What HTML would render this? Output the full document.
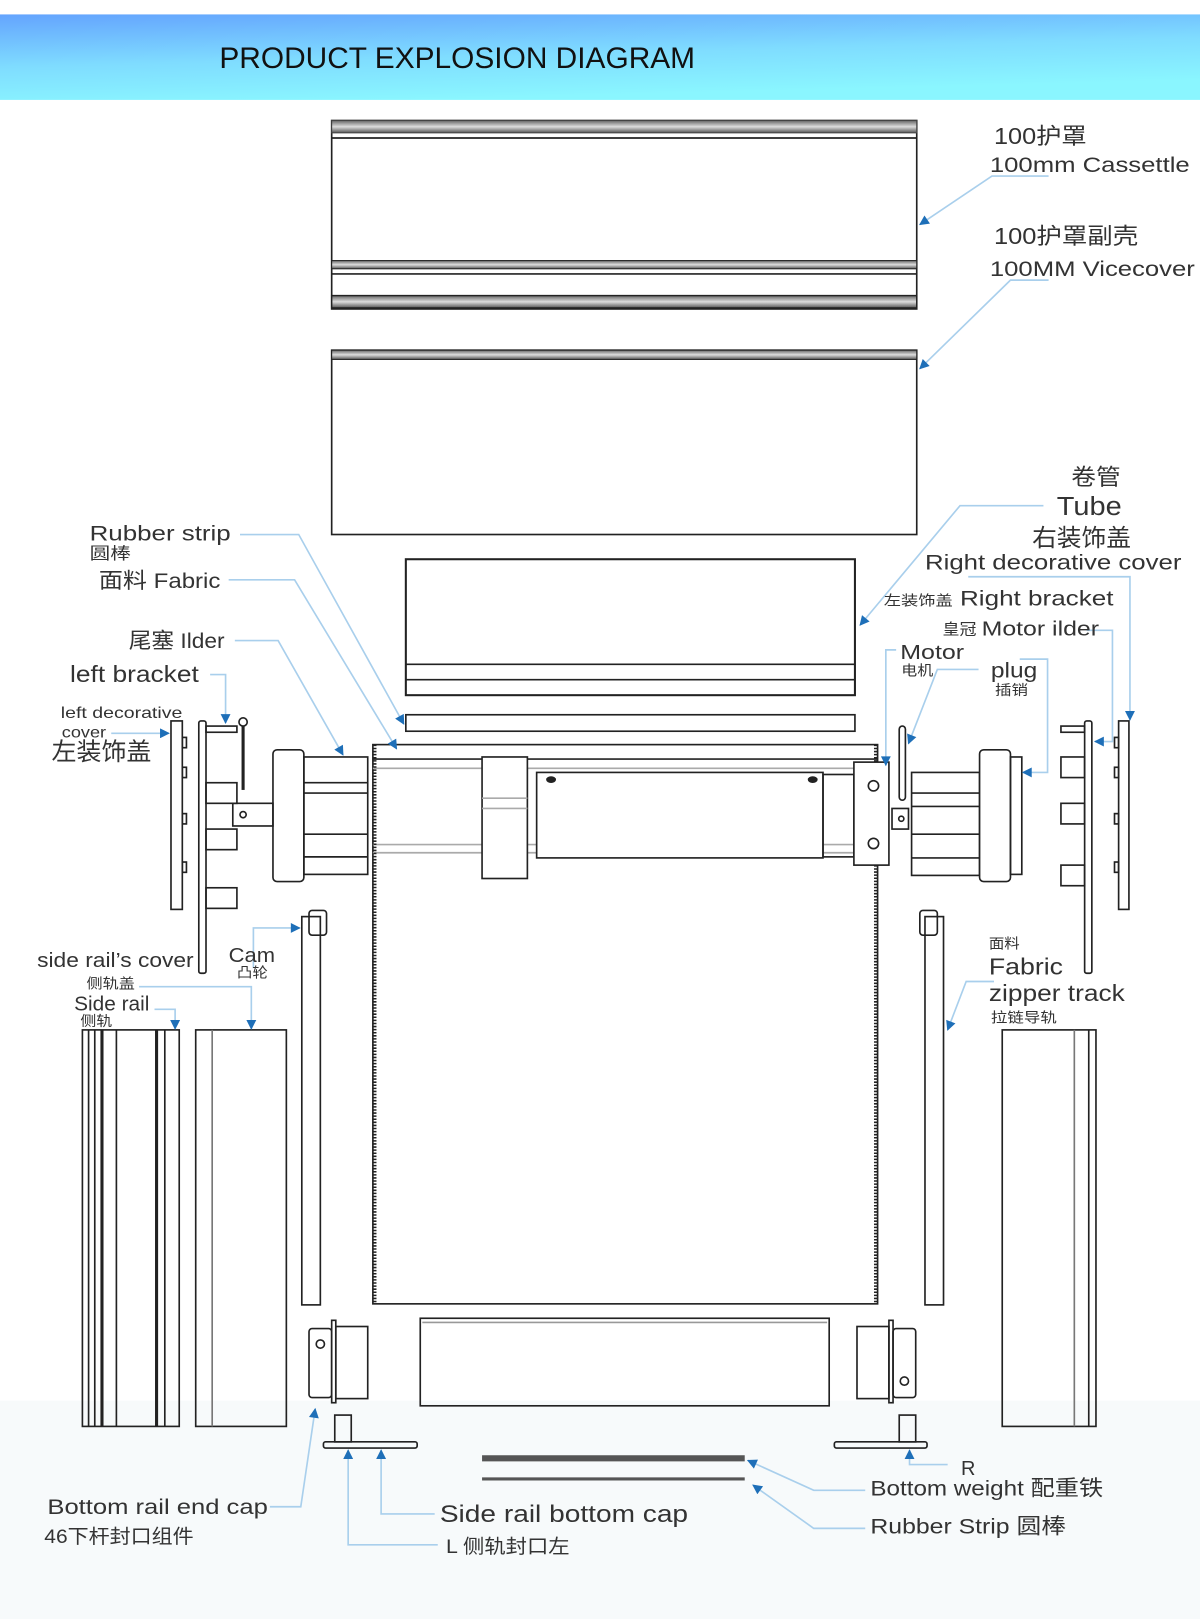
<!DOCTYPE html>
<html><head><meta charset="utf-8"><style>
html,body{margin:0;padding:0;background:#fff;}
svg{display:block}
text{font-family:"Liberation Sans","Noto Sans CJK SC",sans-serif;fill:#333}
</style></head><body>
<svg width="1200" height="1619" viewBox="0 0 1165 1572" preserveAspectRatio="none" xmlns="http://www.w3.org/2000/svg">
<defs>
<linearGradient id="hd" x1="0" y1="0" x2="0.35" y2="1">
<stop offset="0" stop-color="#64a4fe"/><stop offset="0.55" stop-color="#7fdcff"/><stop offset="1" stop-color="#8af6ff"/>
</linearGradient>
<linearGradient id="bar" x1="0" y1="0" x2="0" y2="1">
<stop offset="0" stop-color="#666"/><stop offset="0.5" stop-color="#ddd"/><stop offset="1" stop-color="#555"/>
</linearGradient>
<marker id="ar" viewBox="0 0 10 10" refX="9" refY="5" markerWidth="8" markerHeight="6" orient="auto">
<path d="M0,0 L10,5 L0,10 z" fill="#1e6fb8"/></marker>
</defs>
<rect x="0" y="1360" width="1165" height="212" fill="#f7fafb"/>
<rect x="0" y="14" width="1165" height="83" fill="url(#hd)"/>
<text x="213" y="66" font-size="29" style="font-family:'Liberation Sans Narrow','Liberation Sans',sans-serif;fill:#111">PRODUCT EXPLOSION DIAGRAM</text>

<g fill="none" stroke="#222" stroke-width="1.6">
<rect x="322" y="117" width="568" height="183" fill="#fff"/>
<rect x="322" y="117" width="568" height="12" fill="url(#bar)" stroke="#444" stroke-width="1"/>
<line x1="322" y1="134" x2="890" y2="134"/>
<rect x="322" y="253" width="568" height="8" fill="url(#bar)" stroke-width="1"/>
<line x1="322" y1="266" x2="890" y2="266"/>
<rect x="322" y="287" width="568" height="12" fill="url(#bar)" stroke-width="1.4"/>
<rect x="322" y="340" width="568" height="179" fill="#fff"/>
<rect x="322" y="340" width="568" height="9" fill="url(#bar)" stroke-width="1"/>
<rect x="394" y="543" width="436" height="132" stroke-width="2"/>
<line x1="394" y1="645" x2="830" y2="645"/>
<line x1="394" y1="660" x2="830" y2="660"/>
<rect x="394" y="694" width="436" height="16"/>
<rect x="362" y="723" width="490" height="543"/>
<line x1="362" y1="737" x2="852" y2="737"/>
<line x1="362" y1="746" x2="852" y2="746" stroke="#aaa"/>
<line x1="362" y1="820" x2="852" y2="820" stroke="#aaa"/>
<line x1="362" y1="828" x2="852" y2="828" stroke="#aaa"/>
<line x1="364" y1="723" x2="364" y2="1266" stroke-width="3" stroke-dasharray="1.5 1.5"/>
<line x1="850" y1="723" x2="850" y2="1266" stroke-width="3" stroke-dasharray="1.5 1.5"/>
<rect x="468" y="735" width="44" height="118" fill="#fff"/>
<line x1="468" y1="775" x2="512" y2="775" stroke="#aaa"/>
<line x1="468" y1="785" x2="512" y2="785" stroke="#aaa"/>
<rect x="521" y="750" width="278" height="83" fill="#fff"/>
<ellipse cx="535" cy="757" rx="4" ry="2.5" fill="#222"/>
<ellipse cx="789" cy="757" rx="4" ry="2.5" fill="#222"/>
<rect x="799" y="752" width="30" height="80"/>
<rect x="829" y="740" width="34" height="100" fill="#fff"/>
<circle cx="848" cy="763" r="5"/><circle cx="848" cy="819" r="5"/>
<rect x="866" y="785" width="16" height="20"/><circle cx="875" cy="795" r="2.5"/>
<rect x="873" y="705" width="6" height="72" rx="3"/>
<rect x="265" y="728" width="30" height="128" rx="4" fill="#fff"/>
<rect x="295" y="735" width="62" height="114"/>
<line x1="295" y1="760" x2="357" y2="760"/><line x1="295" y1="770" x2="357" y2="770"/>
<line x1="295" y1="810" x2="357" y2="810"/><line x1="295" y1="832" x2="357" y2="832"/>
<rect x="226" y="780" width="39" height="22"/><circle cx="236" cy="791" r="3"/>
<rect x="885" y="750" width="66" height="100"/>
<line x1="885" y1="770" x2="951" y2="770"/><line x1="885" y1="783" x2="951" y2="783"/>
<line x1="885" y1="810" x2="951" y2="810"/><line x1="885" y1="833" x2="951" y2="833"/>
<rect x="951" y="728" width="30" height="128" rx="4" fill="#fff"/>
<rect x="981" y="735" width="11" height="114"/>
<circle cx="236" cy="701" r="4"/><line x1="236" y1="705" x2="236" y2="767" stroke-width="3"/>
<rect x="193" y="700" width="7" height="245" rx="2"/>
<rect x="200" y="705" width="30" height="6"/>
<rect x="200" y="760" width="30" height="20"/><rect x="200" y="805" width="30" height="20"/><rect x="200" y="862" width="30" height="20"/>
<rect x="166" y="700" width="11" height="183"/>
<rect x="177" y="716" width="4" height="10"/><rect x="177" y="745" width="4" height="10"/><rect x="177" y="790" width="4" height="10"/><rect x="177" y="837" width="4" height="10"/>
<rect x="1053" y="700" width="7" height="245" rx="2"/>
<rect x="1030" y="705" width="23" height="6"/>
<rect x="1030" y="735" width="23" height="20"/><rect x="1030" y="780" width="23" height="20"/><rect x="1030" y="840" width="23" height="20"/>
<rect x="1086" y="700" width="10" height="183"/>
<rect x="1082" y="716" width="4" height="10"/><rect x="1082" y="745" width="4" height="10"/><rect x="1082" y="790" width="4" height="10"/><rect x="1082" y="837" width="4" height="10"/>
<rect x="293" y="890" width="18" height="377"/><rect x="300" y="884" width="17" height="24" rx="3"/>
<rect x="898" y="890" width="18" height="377"/><rect x="893" y="884" width="17" height="24" rx="3"/>
<rect x="80" y="1000" width="94" height="385"/>
<line x1="86" y1="1000" x2="86" y2="1385"/><line x1="92" y1="1000" x2="92" y2="1385"/><line x1="99" y1="1000" x2="99" y2="1385" stroke-width="3"/><line x1="113" y1="1000" x2="113" y2="1385"/><line x1="152" y1="1000" x2="152" y2="1385" stroke-width="3"/><line x1="160" y1="1000" x2="160" y2="1385"/>
<rect x="190" y="1000" width="88" height="385"/><line x1="206" y1="1000" x2="206" y2="1385" stroke="#777"/>
<rect x="973" y="1000" width="91" height="385"/><line x1="1043" y1="1000" x2="1043" y2="1385" stroke="#777"/><line x1="1057" y1="1000" x2="1057" y2="1385"/>
<rect x="300" y="1290" width="22" height="67" rx="3"/><rect x="322" y="1282" width="4" height="80"/><rect x="326" y="1288" width="31" height="70"/><circle cx="311" cy="1305" r="4"/>
<rect x="867" y="1290" width="22" height="67" rx="3"/><rect x="863" y="1282" width="4" height="80"/><rect x="832" y="1288" width="31" height="70"/><circle cx="878" cy="1341" r="4"/>
<rect x="408" y="1280" width="397" height="85"/>
<line x1="410" y1="1284" x2="803" y2="1284" stroke="#999"/>
<rect x="314" y="1400" width="91" height="6" rx="2"/><rect x="325" y="1374" width="16" height="26"/>
<rect x="810" y="1400" width="90" height="6" rx="2"/><rect x="873" y="1374" width="16" height="26"/>
<line x1="468" y1="1416" x2="723" y2="1416" stroke="#555" stroke-width="6"/>
<line x1="468" y1="1436" x2="723" y2="1436" stroke="#555" stroke-width="3"/>
</g>

<g fill="none" stroke="#a9cfec" stroke-width="1.6" marker-end="url(#ar)">
<polyline points="1018,171 963,171 893,218"/>
<polyline points="1018,272 981,272 893,358"/>
<polyline points="1013,491 932,491 835,607"/>
<polyline points="940,560 1097,560 1097,699"/>
<polyline points="1055,612 1080,612 1080,720 1063,720"/>
<polyline points="990,640 1017,640 1017,750 993,750"/>
<polyline points="870,631 860,631 860,743"/>
<polyline points="950,650 910,650 882,722"/>
<polyline points="965,953 938,953 920,1000"/>
<polyline points="233,519 290,519 392,703"/>
<polyline points="222,563 286,563 385,727"/>
<polyline points="228,622 270,622 333,733"/>
<polyline points="204,655 219,655 219,702"/>
<polyline points="108,712 164,712"/>
<polyline points="246,940 246,901 291,901"/>
<polyline points="135,958 244,958 244,999"/>
<polyline points="150,980 170,980 170,999"/>
<polyline points="262,1463 292,1463 306,1368"/>
<polyline points="422,1470 370,1470 370,1408"/>
<polyline points="425,1500 338,1500 338,1408"/>
<polyline points="920,1422 883,1422 883,1408"/>
<polyline points="840,1447 790,1447 726,1418"/>
<polyline points="840,1484 790,1484 731,1442"/>
</g>

<g lengthAdjust="spacingAndGlyphs">
<text x="965" y="140" font-size="22" textLength="90" lengthAdjust="spacingAndGlyphs">100护罩</text>
<text x="961" y="167" font-size="21" textLength="194" lengthAdjust="spacingAndGlyphs">100mm Cassettle</text>
<text x="965" y="237" font-size="22" textLength="140" lengthAdjust="spacingAndGlyphs">100护罩副壳</text>
<text x="961" y="268" font-size="21" textLength="199" lengthAdjust="spacingAndGlyphs">100MM Vicecover</text>
<text x="1040" y="471" font-size="22" textLength="48" lengthAdjust="spacingAndGlyphs">卷管</text>
<text x="1026" y="500" font-size="25" textLength="63" lengthAdjust="spacingAndGlyphs">Tube</text>
<text x="1002" y="530" font-size="23" textLength="96" lengthAdjust="spacingAndGlyphs">右装饰盖</text>
<text x="898" y="553" font-size="21" textLength="249" lengthAdjust="spacingAndGlyphs">Right decorative cover</text>
<text x="858" y="588" font-size="14" textLength="67" lengthAdjust="spacingAndGlyphs">左装饰盖</text>
<text x="932" y="588" font-size="21" textLength="149" lengthAdjust="spacingAndGlyphs">Right bracket</text>
<text x="915" y="616" font-size="15" textLength="33" lengthAdjust="spacingAndGlyphs">皇冠</text>
<text x="953" y="617" font-size="20" textLength="114" lengthAdjust="spacingAndGlyphs">Motor ilder</text>
<text x="874" y="640" font-size="20" textLength="62" lengthAdjust="spacingAndGlyphs">Motor</text>
<text x="875" y="656" font-size="14" textLength="31" lengthAdjust="spacingAndGlyphs">电机</text>
<text x="962" y="658" font-size="21" textLength="45" lengthAdjust="spacingAndGlyphs">plug</text>
<text x="966" y="675" font-size="14" textLength="32" lengthAdjust="spacingAndGlyphs">插销</text>
<text x="960" y="921" font-size="14" textLength="30" lengthAdjust="spacingAndGlyphs">面料</text>
<text x="960" y="946" font-size="22" textLength="72" lengthAdjust="spacingAndGlyphs">Fabric</text>
<text x="960" y="972" font-size="22" textLength="132" lengthAdjust="spacingAndGlyphs">zipper track</text>
<text x="962" y="993" font-size="14" textLength="64" lengthAdjust="spacingAndGlyphs">拉链导轨</text>
<text x="87" y="525" font-size="21" textLength="137" lengthAdjust="spacingAndGlyphs">Rubber strip</text>
<text x="87" y="543" font-size="16" textLength="40" lengthAdjust="spacingAndGlyphs">圆棒</text>
<text x="96" y="571" font-size="21" textLength="118" lengthAdjust="spacingAndGlyphs">面料 Fabric</text>
<text x="125" y="629" font-size="21" textLength="93" lengthAdjust="spacingAndGlyphs">尾塞 Ilder</text>
<text x="68" y="662" font-size="22" textLength="125" lengthAdjust="spacingAndGlyphs">left bracket</text>
<text x="59" y="697" font-size="15" textLength="118" lengthAdjust="spacingAndGlyphs">left decorative</text>
<text x="60" y="716" font-size="15" textLength="43" lengthAdjust="spacingAndGlyphs">cover</text>
<text x="50" y="738" font-size="24" textLength="97" lengthAdjust="spacingAndGlyphs">左装饰盖</text>
<text x="36" y="939" font-size="20" textLength="152" lengthAdjust="spacingAndGlyphs">side rail’s cover</text>
<text x="222" y="934" font-size="20" textLength="45" lengthAdjust="spacingAndGlyphs">Cam</text>
<text x="230" y="949" font-size="14" textLength="30" lengthAdjust="spacingAndGlyphs">凸轮</text>
<text x="84" y="960" font-size="14" textLength="47" lengthAdjust="spacingAndGlyphs">侧轨盖</text>
<text x="72" y="981" font-size="20" textLength="73" lengthAdjust="spacingAndGlyphs">Side rail</text>
<text x="78" y="996" font-size="14" textLength="31" lengthAdjust="spacingAndGlyphs">侧轨</text>
<text x="46" y="1470" font-size="21" textLength="214" lengthAdjust="spacingAndGlyphs">Bottom rail end cap</text>
<text x="43" y="1498" font-size="19" textLength="145" lengthAdjust="spacingAndGlyphs">46下杆封口组件</text>
<text x="427" y="1478" font-size="23" textLength="241" lengthAdjust="spacingAndGlyphs">Side rail bottom cap</text>
<text x="433" y="1508" font-size="19" textLength="120" lengthAdjust="spacingAndGlyphs">L 侧轨封口左</text>
<text x="933" y="1432" font-size="20" textLength="14" lengthAdjust="spacingAndGlyphs">R</text>
<text x="845" y="1452" font-size="21" textLength="226" lengthAdjust="spacingAndGlyphs">Bottom weight 配重铁</text>
<text x="845" y="1489" font-size="21" textLength="190" lengthAdjust="spacingAndGlyphs">Rubber Strip 圆棒</text>
</g>
</svg>
</body></html>
